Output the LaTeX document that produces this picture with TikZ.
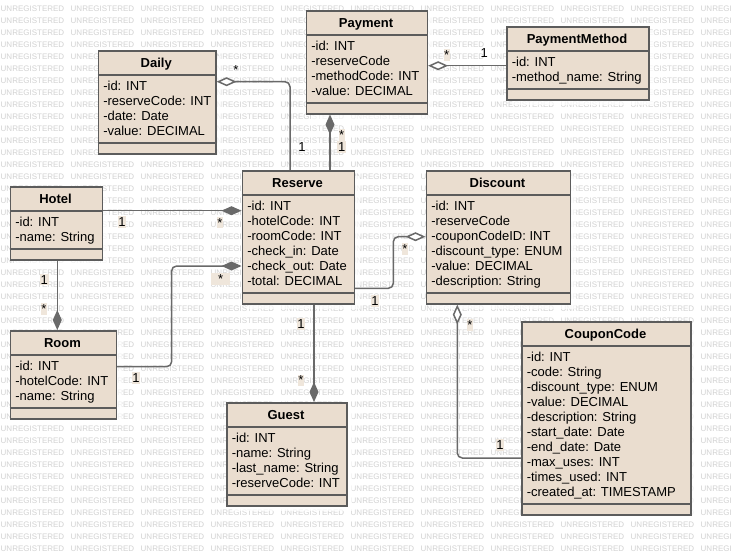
\documentclass[tikz,border=0pt]{standalone}
\usepackage{fontspec}
\setmainfont{Liberation Sans}
\usetikzlibrary{arrows.meta}

\definecolor{boxfill}{RGB}{234,221,207}
\definecolor{boxline}{RGB}{92,92,92}
\definecolor{connline}{RGB}{105,105,105}
\definecolor{wmgray}{RGB}{210,210,210}

\tikzset{
  classbox/.style={draw=boxline, line width=1.6pt, fill=boxfill, inner sep=0pt},
  sepline/.style={draw=boxline, line width=1.6pt},
  classtitle/.style={font=\fontsize{13}{15}\selectfont\bfseries, inner sep=0pt},
  attr/.style={font=\fontsize{13}{15}\selectfont, inner sep=0pt},
  conn/.style={draw=connline, line width=1.5pt, rounded corners=5pt},
  comp/.style={conn, {Diamond[length=20pt,width=9pt]}-},
  aggr/.style={conn, {Diamond[open,fill=white,length=20pt,width=9pt]}-},
  mult/.style={font=\fontsize{13}{15}\selectfont, inner sep=0.6pt, text height=9.6pt, text depth=0.8pt},
  multbg/.style={mult, fill=boxfill!75!white},
  wm/.style={font=\fontsize{8}{8}\selectfont, text=wmgray, inner sep=0pt},
  boxshade/.style={fill=white, opacity=.7},
}

% #1 name, #2 left, #3 top, #4 width, #5 title, #6 number of attributes, #7 attributes
\newcommand\umlclass[7]{%
  \pgfmathsetmacro\boxh{43+15*#6}
  \fill[boxshade] (#2+6,#3+6) rectangle ++(#4,\boxh);
  \node[classbox, minimum width=#4pt, minimum height=\boxh pt, anchor=north west] (#1) at (#2,#3) {};
  \draw[sepline] (#2,#3+25) -- ++(#4,0);
  \draw[sepline] (#2,#3+33+15*#6) -- ++(#4,0);
  \node[classtitle, anchor=base] (#1-t) at (#2+#4/2,#3+17) {#5};
  \foreach \t [count=\i from 0] in {#7}
    \node[attr, anchor=base west] (#1-a\i) at (#2+5.6,#3+40.3+15*\i) {\t};
}

\begin{document}
\begin{tikzpicture}[x=1pt,y=-1pt]
  \useasboundingbox (0,0) rectangle (731,555);
  \fill[white] (0,0) rectangle (731,555);

  % watermark grid
  \foreach \r in {0,...,46}
    \foreach \c in {0,...,10}
      \node[wm, anchor=west] (wm-\r-\c) at (\c*70+0.5, 9+12*\r) {UNREGISTERED};

  % classes
  \umlclass{daily}{97.5}{50}{117.5}{Daily}{4}{-id: INT, -reserveCode: INT, -date: Date, -value: DECIMAL}
  \umlclass{payment}{305.5}{10}{121}{Payment}{4}{-id: INT, -reserveCode, -methodCode: INT, -value: DECIMAL}
  \umlclass{paymethod}{506}{26}{142}{PaymentMethod}{2}{-id: INT, -method\_name: String}
  \umlclass{hotel}{9.5}{186}{92}{Hotel}{2}{-id: INT, -name: String}
  \umlclass{room}{9.5}{330}{106}{Room}{3}{-id: INT, -hotelCode: INT, -name: String}
  \umlclass{reserve}{241.5}{170}{112}{Reserve}{6}{-id: INT, -hotelCode: INT, -roomCode: INT, -check\_in: Date, -check\_out: Date, -total: DECIMAL}
  \umlclass{discount}{425.5}{170}{144}{Discount}{6}{-id: INT, -reserveCode, -couponCodeID: INT, -discount\_type: ENUM, -value: DECIMAL, -description: String}
  \umlclass{guest}{226}{402}{120}{Guest}{4}{-id: INT, -name: String, -last\_name: String, -reserveCode: INT}
  \umlclass{coupon}{521}{321}{169}{CouponCode}{10}{-id: INT, -code: String, -discount\_type: ENUM, -value: DECIMAL, -description: String, -start\_date: Date, -end\_date: Date, -max\_uses: INT, -times\_used: INT, -created\_at: TIMESTAMP}

  % associations
  \draw[aggr] ([yshift=-31.7pt]daily.north east) -| ([xshift=48.5pt]reserve.north west);
  \draw[comp] ([xshift=24.5pt]payment.south west) -- ([xshift=88.5pt]reserve.north west);
  \draw[aggr] ([yshift=-55.7pt]payment.north east) -- ([yshift=-39.7pt]paymethod.north west);
  \draw[comp] ([yshift=-40.7pt]reserve.north west) -- ([yshift=-24.7pt]hotel.north east);
  \draw[comp] ([yshift=-96pt]reserve.north west) -| ([xshift=54.5pt,yshift=-36.7pt]room.north east) -- ([yshift=-36.7pt]room.north east);
  \draw[comp] ([xshift=47.8pt]room.north west) -- ([xshift=47.8pt]hotel.south west);
  \draw[comp] ([xshift=88pt]guest.north west) -- ([xshift=72.5pt]reserve.south west);
  \draw[aggr] ([yshift=-66.7pt]discount.north west) -| ([xshift=38.2pt,yshift=-118.3pt]reserve.north east) -- ([yshift=-118.3pt]reserve.north east);
  \draw[aggr] ([xshift=31.8pt]discount.south west) |- ([yshift=-137pt]coupon.north west);

  % multiplicities
  \node[mult, anchor=base] (m1) at (236,74.2) {*};
  \node[mult, anchor=base] (m2) at (302,151.6) {1};
  \node[multbg, anchor=base] (m3) at (341.7,139.2) {*};
  \node[multbg, anchor=base] (m4) at (341.7,151.3) {1};
  \node[multbg, anchor=base] (m5) at (446.7,59.2) {*};
  \node[mult, anchor=base] (m6) at (484.3,57) {1};
  \node[multbg, anchor=base] (m7) at (122,226.3) {1};
  \node[multbg, anchor=base] (m8) at (220,227) {*};
  \node[multbg, anchor=base, minimum width=19pt] (m9) at (220.7,283.5) {*};
  \node[multbg, anchor=base] (m10) at (136,382.3) {1};
  \node[multbg, anchor=base] (m11) at (44.3,284) {1};
  \node[multbg, anchor=base] (m12) at (44,313.2) {*};
  \node[multbg, anchor=base] (m13) at (301,328.6) {1};
  \node[multbg, anchor=base] (m14) at (301,384.8) {*};
  \node[multbg, anchor=base] (m15) at (405,253.5) {*};
  \node[multbg, anchor=base] (m16) at (375,305.6) {1};
  \node[multbg, anchor=base] (m17) at (470,329.2) {*};
  \node[multbg, anchor=base] (m18) at (500,449.6) {1};
\end{tikzpicture}
\end{document}
